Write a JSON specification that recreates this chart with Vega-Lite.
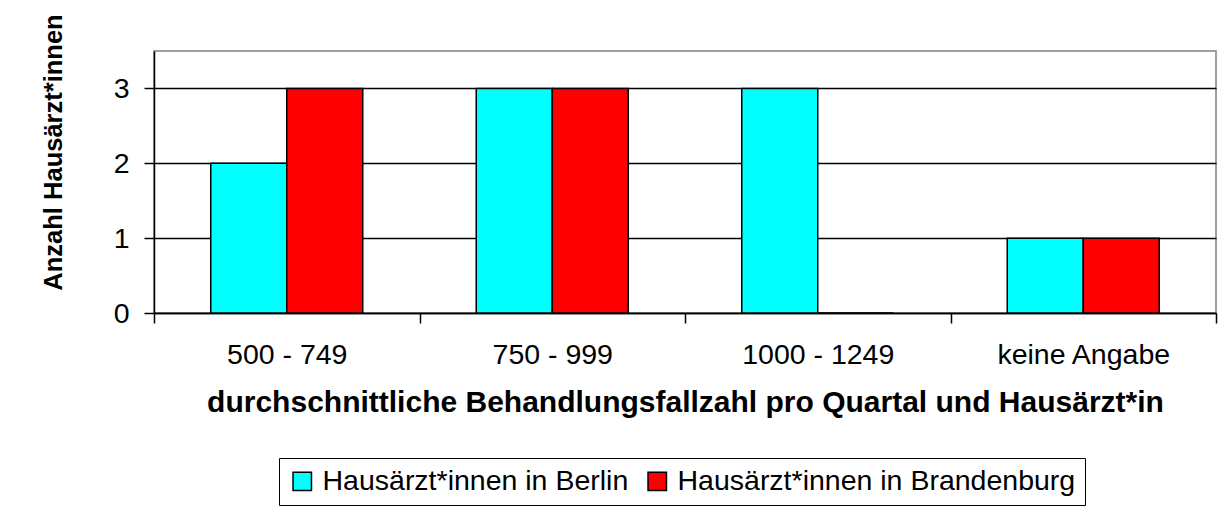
{
  "$schema": "https://vega.github.io/schema/vega-lite/v6.json",
  "width": 1062,
  "height": 262,
  "autosize": {"type": "none"},
  "padding": {"left": 154, "top": 51, "right": 13, "bottom": 197},
  "background": "white",
  "config": {
    "font": "Liberation Sans",
    "view": {"stroke": "#808080", "strokeWidth": 1.5}
  },
  "data": {
    "values": [
      {"kategorie": "500 - 749", "gruppe": "Hausärzt*innen in Berlin", "anzahl": 2},
      {"kategorie": "500 - 749", "gruppe": "Hausärzt*innen in Brandenburg", "anzahl": 3},
      {"kategorie": "750 - 999", "gruppe": "Hausärzt*innen in Berlin", "anzahl": 3},
      {"kategorie": "750 - 999", "gruppe": "Hausärzt*innen in Brandenburg", "anzahl": 3},
      {"kategorie": "1000 - 1249", "gruppe": "Hausärzt*innen in Berlin", "anzahl": 3},
      {"kategorie": "1000 - 1249", "gruppe": "Hausärzt*innen in Brandenburg", "anzahl": 0},
      {"kategorie": "keine Angabe", "gruppe": "Hausärzt*innen in Berlin", "anzahl": 1},
      {"kategorie": "keine Angabe", "gruppe": "Hausärzt*innen in Brandenburg", "anzahl": 1}
    ]
  },
  "mark": {"type": "bar", "stroke": "black", "strokeWidth": 1.5},
  "encoding": {
    "x": {
      "field": "kategorie",
      "type": "nominal",
      "sort": ["500 - 749", "750 - 999", "1000 - 1249", "keine Angabe"],
      "scale": {"paddingInner": 0, "paddingOuter": 0},
      "axis": {
        "title": "durchschnittliche Behandlungsfallzahl pro Quartal und Hausärzt*in",
        "titleFontSize": 30,
        "titleFontWeight": "bold",
        "titleColor": "black",
        "titlePadding": 19,
        "labelAngle": 0,
        "labelFontSize": 28.5,
        "labelColor": "black",
        "labelPadding": 17,
        "tickBand": "extent",
        "tickSize": 10,
        "tickColor": "black",
        "tickWidth": 1.5,
        "domainColor": "black",
        "domainWidth": 1.5,
        "grid": false
      }
    },
    "xOffset": {
      "field": "gruppe",
      "type": "nominal",
      "scale": {"paddingInner": 0, "paddingOuter": 0.7467}
    },
    "y": {
      "field": "anzahl",
      "type": "quantitative",
      "scale": {"domain": [0, 3.5], "nice": false},
      "axis": {
        "title": "Anzahl Hausärzt*innen",
        "titleFontSize": 25.5,
        "titleFontWeight": "bold",
        "titleColor": "black",
        "titleAngle": -90,
        "titleAlign": "center",
        "titleBaseline": "alphabetic",
        "titleX": -93,
        "titleY": 101,
        "values": [0, 1, 2, 3],
        "labelFontSize": 28.5,
        "labelColor": "black",
        "labelPadding": 15,
        "tickSize": 10,
        "tickColor": "black",
        "tickWidth": 1.5,
        "domainColor": "black",
        "domainWidth": 1.5,
        "grid": true,
        "gridColor": "black",
        "gridWidth": 1.5,
        "gridOpacity": 1
      }
    },
    "color": {
      "field": "gruppe",
      "type": "nominal",
      "scale": {
        "domain": ["Hausärzt*innen in Berlin", "Hausärzt*innen in Brandenburg"],
        "range": ["#00FFFF", "#FF0000"]
      },
      "legend": {
        "title": null,
        "orient": "none",
        "direction": "horizontal",
        "legendX": 125,
        "legendY": 407,
        "strokeColor": "black",
        "padding": 9,
        "labelFontSize": 28.5,
        "labelColor": "black",
        "labelOffset": 6,
        "labelLimit": 600,
        "columnPadding": 14,
        "symbolType": "square",
        "symbolSize": 340,
        "symbolStrokeColor": "black",
        "symbolStrokeWidth": 1.5,
        "symbolOpacity": 1
      }
    }
  }
}
